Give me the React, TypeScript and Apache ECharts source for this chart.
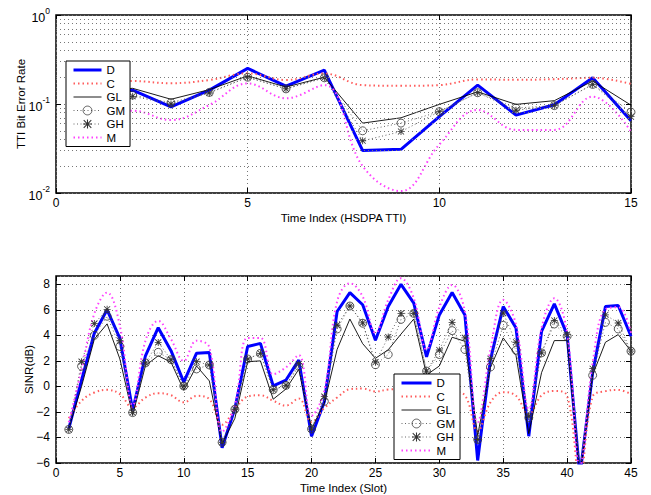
import React, { useEffect, useRef } from 'react';
import * as echarts from 'echarts';

const seriesNames = ['D', 'C', 'GL', 'GM', 'GH', 'M'];

// Top panel: TTI bit error rate per HSDPA TTI
const ttiIndex = [1, 2, 3, 4, 5, 6, 7, 8, 9, 10, 11, 12, 13, 14, 15];
const berD = [0.14, 0.143, 0.093, 0.143, 0.251, 0.159, 0.24, 0.03, 0.031, 0.072, 0.163, 0.075, 0.098, 0.197, 0.065];
const berC = [0.17, 0.181, 0.171, 0.186, 0.221, 0.186, 0.22, 0.163, 0.16, 0.163, 0.189, 0.187, 0.19, 0.197, 0.168];
const berGL = [0.14, 0.15, 0.113, 0.145, 0.207, 0.155, 0.2, 0.061, 0.07, 0.099, 0.137, 0.099, 0.109, 0.181, 0.097];
const berGM = [0.13, 0.126, 0.1035, 0.135, 0.2, 0.148, 0.197, 0.05, 0.061, 0.082, 0.134, 0.09, 0.096, 0.166, 0.081];
const berGH = [0.13, 0.122, 0.1, 0.133, 0.2, 0.148, 0.197, 0.0386, 0.049, 0.082, 0.134, 0.085, 0.096, 0.166, 0.072];
const berM = [0.08, 0.084, 0.066, 0.0975, 0.17, 0.116, 0.163, 0.02, 0.0105, 0.035, 0.0857, 0.0512, 0.0512, 0.121, 0.049];
const berMinorGrid = [0.02, 0.03, 0.04, 0.05, 0.06, 0.07, 0.08, 0.09, 0.2, 0.3, 0.4, 0.5, 0.6, 0.7, 0.8, 0.9];

// Bottom panel: SINR per slot
const slotIndex = [1, 2, 3, 4, 5, 6, 7, 8, 9, 10, 11, 12, 13, 14, 15, 16, 17, 18, 19, 20, 21, 22, 23, 24, 25, 26, 27, 28, 29, 30, 31, 32, 33, 34, 35, 36, 37, 38, 39, 40, 41, 42, 43, 44, 45];
const sinrD = [-3.3, 0.5, 4.17, 6.0, 3.76, -1.87, 2.4, 4.6, 2.8, 0.34, 2.6, 2.65, -4.8, -1.74, 3.13, 3.37, 0.04, 0.5, 2.06, -3.9, -1.2, 5.87, 7.35, 6.4, 3.62, 6.26, 8.0, 6.52, 2.32, 5.6, 7.35, 5.6, -5.8, 2.1, 6.26, 4.58, -3.9, 4.31, 6.47, 4.06, -7.0, 1.08, 6.26, 6.34, 3.93];
const sinrC = [-2.5, -1.13, -0.48, -0.27, -0.6, -1.65, -0.87, -0.53, -0.69, -1.25, -0.74, -1.0, -3.0, -1.8, -0.8, -0.69, -1.13, -1.5, -0.94, -2.8, -1.7, -0.87, -0.22, -0.17, -0.4, -0.25, -0.2, -0.3, -1.2, -0.4, -0.43, -0.7, -3.5, -1.25, -0.45, -0.74, -2.2, -0.7, -0.35, -0.74, -7.0, -0.8, -0.37, -0.28, -0.61];
const sinrGL = [-3.3, 0.0, 3.7, 4.9, 2.15, -2.25, 1.63, 2.4, 1.9, -0.3, 1.6, 0.43, -4.5, -2.5, 1.94, 2.0, -1.0, -0.2, 1.34, -3.33, -1.3, 2.9, 5.28, 3.35, 2.2, 2.87, 4.1, 5.28, 0.9, 1.6, 3.85, 3.54, -3.85, 1.47, 3.8, 2.42, -3.7, 1.08, 3.59, 3.59, -7.0, 0.9, 3.46, 4.06, 2.76];
const sinrGM = [-3.37, 1.58, 4.0, 5.5, 3.13, -2.05, 1.84, 2.67, 2.1, 0.03, 1.37, 1.68, -4.38, -1.79, 2.15, 2.59, -0.26, 0.08, 1.58, -3.34, -1.17, 4.5, 6.3, 4.95, 1.7, 2.5, 5.25, 5.72, 1.2, 2.5, 4.37, 2.89, -4.16, 1.52, 4.78, 2.84, -2.45, 2.63, 4.89, 3.93, -6.5, 0.87, 5.02, 4.5, 2.76];
const sinrGH = [-3.37, 1.94, 4.92, 6.04, 3.58, -2.05, 1.84, 3.45, 2.1, 0.03, 1.94, 1.68, -4.38, -1.79, 2.15, 2.59, -0.26, 0.08, 1.76, -3.34, -0.8, 4.8, 6.3, 4.98, 1.9, 3.87, 5.72, 5.72, 1.2, 2.85, 5.02, 3.8, -4.16, 2.17, 5.74, 3.46, -2.35, 2.63, 5.17, 4.06, -6.5, 1.39, 5.61, 4.97, 2.76];
const sinrM = [-2.8, 1.3, 5.7, 7.35, 4.74, -1.48, 3.58, 5.13, 3.7, 2.0, 3.58, 3.06, -3.55, -1.48, 3.8, 3.8, 0.95, 1.5, 2.45, -2.3, -0.3, 6.65, 8.08, 7.04, 4.2, 6.78, 8.47, 6.91, 2.9, 6.2, 7.95, 5.87, -2.8, 2.89, 6.78, 4.84, -1.77, 4.58, 6.91, 4.19, -6.2, 1.86, 6.05, 6.2, 4.19];

const FONT = '"Liberation Sans", Arial, Helvetica, sans-serif';
const ASTERISK = 'path://M0 4.4H10V5.6H0Z M4.4 0H5.6V10H4.4Z M1.1 0.3L9.7 8.9L8.9 9.7L0.3 1.1Z M8.9 0.3L9.7 1.1L1.1 9.7L0.3 8.9Z';

const styles: Record<string, any> = {
  D: { symbol: 'none', lineStyle: { color: '#0000ff', width: 3 }, itemStyle: { color: '#0000ff' } },
  C: { symbol: 'none', smooth: 0.4, lineStyle: { color: '#ff5c5c', width: 2, type: [1.5, 3] }, itemStyle: { color: '#ff5c5c' } },
  GL: { symbol: 'none', lineStyle: { color: '#000', width: 0.9 }, itemStyle: { color: '#000' } },
  GM: {
    symbol: 'circle', symbolSize: 8,
    lineStyle: { color: '#555', width: 0.9, type: [1, 2.5] },
    itemStyle: { color: 'rgba(255,255,255,0)', borderColor: '#333', borderWidth: 0.8 },
  },
  GH: {
    symbol: ASTERISK, symbolSize: 7,
    lineStyle: { color: '#555', width: 0.9, type: [1, 2.5] },
    itemStyle: { color: '#333' },
  },
  M: { symbol: 'none', smooth: 0.4, lineStyle: { color: '#ff40ff', width: 2, type: [1.5, 3] }, itemStyle: { color: '#ff40ff' } },
};

function buildSeries(gridIndex: number, xs: number[], values: number[][]) {
  return seriesNames.map((name, i) => ({
    name,
    type: 'line',
    xAxisIndex: gridIndex,
    yAxisIndex: gridIndex,
    showSymbol: styles[name].symbol !== 'none',
    data: xs.map((x, k) => [x, values[i][k]]),
    ...styles[name],
  }));
}

const dottedGrid = { show: true, lineStyle: { color: '#777', width: 1, type: [1, 3] } };
const tickLabel = { fontSize: 12, color: '#000', fontFamily: FONT };
const nameStyle = { fontSize: 11.5, color: '#000', fontFamily: FONT };
const innerTick = { show: true, inside: true, length: 5, lineStyle: { color: '#000' } };
const noLine = { show: false, onZero: false };

function legendAt(left: number, top: number, itemWidth: number) {
  return {
    data: seriesNames.map((name) =>
      styles[name].symbol === 'none'
        ? { name, itemStyle: { color: 'rgba(0,0,0,0)', borderWidth: 0, opacity: 0 } }
        : { name }
    ),
    orient: 'vertical',
    left,
    top,
    padding: [3, 5, 3, 6],
    itemWidth,
    itemHeight: 11,
    itemGap: 1.5,
    borderColor: '#000',
    borderWidth: 1,
    backgroundColor: '#fff',
    borderRadius: 0,
    selectedMode: false,
    z: 10,
    lineStyle: { width: 'inherit' },
    itemStyle: { borderWidth: 'inherit' },
    textStyle: { fontSize: 11.5, lineHeight: 11, color: '#000', fontFamily: FONT },
  };
}

// mirrored (MATLAB box) tick axes
function mirrorX(gridIndex: number, max: number) {
  return {
    type: 'value', gridIndex, min: 0, max, interval: 5, position: 'top',
    axisLine: noLine, axisTick: innerTick, axisLabel: { show: false }, splitLine: { show: false },
  };
}

export default function App() {
  const ref = useRef<HTMLDivElement>(null);
  useEffect(() => {
    document.body.style.margin = '0';
    const chart = echarts.init(ref.current!, null, { renderer: 'svg' });
    const option: any = {
      animation: false,
      backgroundColor: '#fff',
      textStyle: { fontFamily: FONT },
      grid: [
        { left: 56, top: 15, width: 575, height: 178, show: true, borderColor: '#000', borderWidth: 1.5, backgroundColor: 'transparent' },
        { left: 56, top: 276, width: 575, height: 188, show: true, borderColor: '#000', borderWidth: 1.5, backgroundColor: 'transparent' },
      ],
      legend: [legendAt(66, 61, 28), legendAt(394, 374, 30)],
      xAxis: [
        {
          type: 'value', gridIndex: 0, min: 0, max: 15, interval: 5, position: 'bottom',
          name: 'Time Index (HSDPA TTI)', nameLocation: 'middle', nameGap: 19, nameTextStyle: nameStyle, nameMoveOverlap: false,
          axisLine: noLine, axisTick: innerTick,
          axisLabel: { ...tickLabel, margin: 4 }, splitLine: dottedGrid,
        },
        {
          type: 'value', gridIndex: 1, min: 0, max: 45, interval: 5, position: 'bottom',
          name: 'Time Index (Slot)', nameLocation: 'middle', nameGap: 19, nameTextStyle: nameStyle, nameMoveOverlap: false,
          axisLine: noLine, axisTick: innerTick,
          axisLabel: { ...tickLabel, margin: 4 }, splitLine: dottedGrid,
        },
        mirrorX(0, 15),
        mirrorX(1, 45),
      ],
      yAxis: [
        {
          type: 'log', logBase: 10, gridIndex: 0, min: 0.01, max: 1, position: 'left',
          name: 'TTI Bit Error Rate', nameLocation: 'middle', nameGap: 29, nameTextStyle: nameStyle, nameMoveOverlap: false,
          axisLine: noLine, axisTick: innerTick,
          axisLabel: {
            margin: 6,
            formatter: (v: number) => `{b|10}{s|${Math.round(Math.log10(v))}}`,
            rich: {
              b: { fontSize: 12.5, color: '#000', fontFamily: FONT, lineHeight: 18, verticalAlign: 'bottom' },
              s: { fontSize: 8.5, color: '#000', fontFamily: FONT, lineHeight: 8, verticalAlign: 'top' },
            },
          },
          splitLine: dottedGrid,
        },
        {
          type: 'value', gridIndex: 1, min: -6, max: 8.65, interval: 2, position: 'left',
          name: 'SINR(dB)', nameLocation: 'middle', nameGap: 21, nameTextStyle: nameStyle, nameMoveOverlap: false,
          axisLine: noLine, axisTick: innerTick,
          axisLabel: {
            ...tickLabel, margin: 6, showMaxLabel: false,
            formatter: (v: number) => (Number.isInteger(v) ? String(v).replace('-', '\u2212') : ''),
          },
          splitLine: dottedGrid,
        },
        {
          type: 'log', logBase: 10, gridIndex: 0, min: 0.01, max: 1, position: 'right',
          axisLine: noLine, axisTick: innerTick, axisLabel: { show: false }, splitLine: { show: false },
        },
        {
          type: 'value', gridIndex: 1, min: -6, max: 8.65, interval: 2, position: 'right',
          axisLine: noLine, axisTick: { ...innerTick, customValues: [-6, -4, -2, 0, 2, 4, 6, 8] },
          axisLabel: { show: false }, splitLine: { show: false },
        },
      ],
      series: [
        {
          name: 'minor-grid', type: 'line', xAxisIndex: 0, yAxisIndex: 0, data: [], silent: true,
          markLine: {
            silent: true, symbol: 'none', label: { show: false },
            lineStyle: { color: '#777', width: 1, type: [1, 3] },
            data: berMinorGrid.map((v) => ({ yAxis: v })),
          },
        },
        ...buildSeries(0, ttiIndex, [berD, berC, berGL, berGM, berGH, berM]),
        ...buildSeries(1, slotIndex, [sinrD, sinrC, sinrGL, sinrGM, sinrGH, sinrM]),
      ],
    };
    chart.setOption(option);
    return () => chart.dispose();
  }, []);
  return <div ref={ref} style={{ width: 651, height: 495, background: '#fff' }} />;
}
